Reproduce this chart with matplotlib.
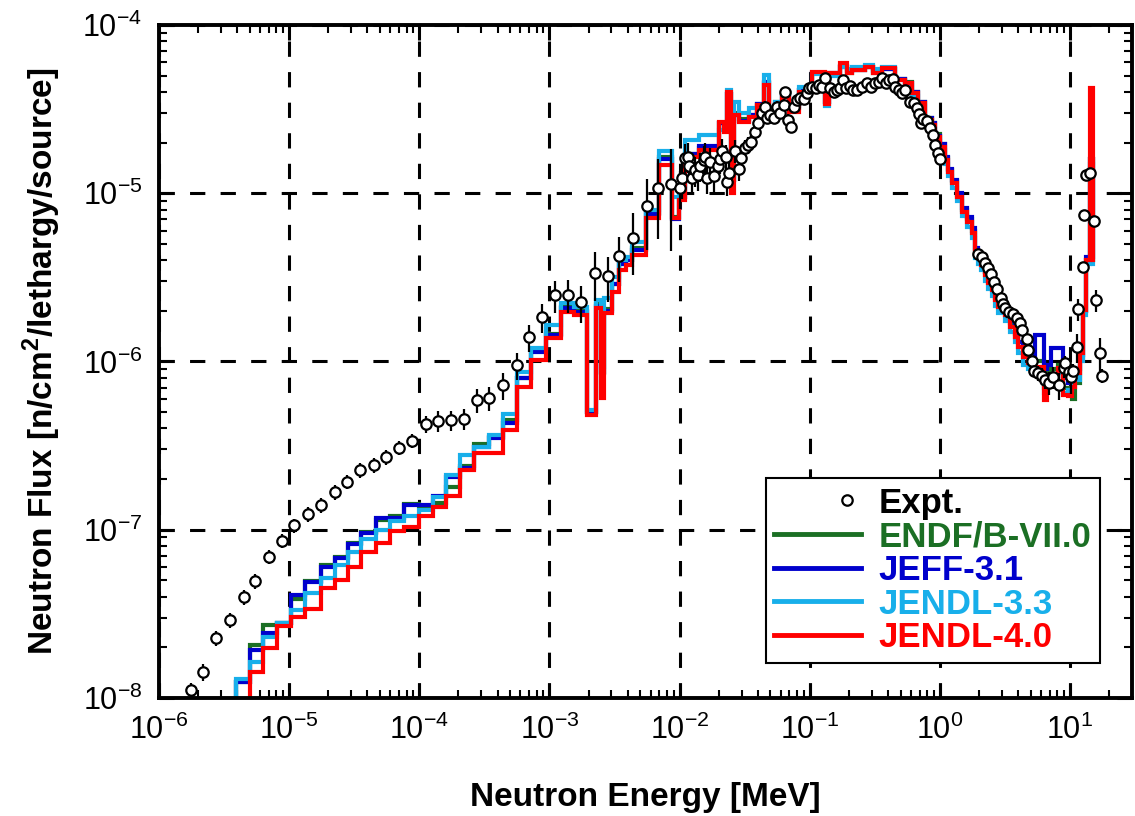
import numpy as np
import matplotlib
matplotlib.use('Agg')
import matplotlib.pyplot as plt
from matplotlib.lines import Line2D
from matplotlib.legend_handler import HandlerLine2D
from matplotlib.ticker import LogLocator, FuncFormatter, NullFormatter

plt.rcParams['font.family'] = ['Liberation Sans', 'DejaVu Sans']
plt.rcParams['axes.unicode_minus'] = False
plt.rcParams['mathtext.fontset'] = 'custom'
plt.rcParams['mathtext.rm'] = 'Liberation Sans'
plt.rcParams['mathtext.bf'] = 'Liberation Sans:bold'

# bin edges of the calculated spectra [MeV]
edges = [3.89e-6, 4.99e-6, 6.31e-6, 8.07e-6, 1.04e-5, 1.33e-5, 1.75e-5, 2.24e-5,
         2.83e-5, 3.58e-5, 4.67e-5, 5.98e-5, 7.69e-5, 9.91e-5, 1.27e-4, 1.61e-4,
         2.06e-4, 2.65e-4, 3.45e-4, 4.43e-4, 5.69e-4, 7.21e-4, 9.40e-4, 1.22e-3,
         1.55e-3, 1.96e-3, 2.27e-3, 2.51e-3, 2.63e-3, 3.05e-3, 3.43e-3, 3.86e-3,
         4.34e-3, 5.50e-3, 6.95e-3, 8.79e-3, 9.89e-3, 1.11e-2, 1.41e-2, 2.00e-2,
         2.19e-2, 2.32e-2, 2.47e-2, 2.61e-2, 2.86e-2, 3.40e-2, 3.94e-2, 4.44e-2,
         4.85e-2, 5.46e-2, 6.12e-2, 6.90e-2, 8.24e-2, 0.104, 0.132, 0.140,
         0.172, 0.193, 0.211, 0.267, 0.309, 0.358, 0.454, 0.541,
         0.608, 0.685, 0.771, 0.867, 0.920, 1.005, 1.10, 1.16,
         1.23, 1.35, 1.47, 1.61, 1.76, 1.87, 1.98, 2.09,
         2.22, 2.36, 2.50, 2.65, 2.81, 3.17, 3.46, 3.78,
         4.01, 4.38, 4.78, 5.38, 6.31, 6.61, 7.21, 8.13,
         8.87, 9.68, 10.3, 10.9, 11.9, 12.6, 13.4, 14.2, 15.1]

flux_endf = [1.25e-8, 2.07e-8, 2.72e-8, 2.78e-8, 3.9e-8, 4.95e-8, 6.2e-8, 6.9e-8,
             8.3e-8, 9.7e-8, 1.15e-7, 1.2e-7, 1.42e-7, 1.38e-7, 1.45e-7, 1.8e-7,
             2.4e-7, 3.25e-7, 3.55e-7, 4.5e-7, 8.0e-7, 1.15e-6, 1.45e-6, 2.1e-6,
             2.0e-6, 5.0e-7, 2.2e-6, 8.5e-7, 2.05e-6, 2.9e-6, 3.8e-6, 4.0e-6,
             4.7e-6, 7.6e-6, 1.65e-5, 7.2e-6, 9.5e-6, 1.72e-5, 1.86e-5, 2.6e-5,
             2.4e-5, 3.9e-5, 1.2e-5, 3.0e-5, 2.75e-5, 2.9e-5, 3.4e-5, 4.5e-5,
             3.2e-5, 3.5e-5, 3.8e-5, 3.2e-5, 4.1e-5, 5.2e-5, 3.5e-5, 5.1e-5,
             5.7e-5, 5.2e-5, 5.4e-5, 5.6e-5, 5.2e-5, 5.5e-5, 4.8e-5, 4.6e-5,
             4.0e-5, 3.5e-5, 2.8e-5, 2.6e-5, 2.25e-5, 1.95e-5, 1.62e-5, 1.38e-5,
             1.18e-5, 9.8e-6, 8.0e-6, 7.0e-6, 6.0e-6, 4.6e-6, 4.3e-6, 3.9e-6,
             3.4e-6, 3.0e-6, 2.75e-6, 2.4e-6, 2.25e-6, 1.95e-6, 1.7e-6, 1.45e-6,
             1.3e-6, 1.12e-6, 1.0e-6, 1.0e-6, 7.0e-7, 8.5e-7, 9.0e-7, 9.5e-7,
             7.0e-7, 6.5e-7, 6.0e-7, 7.5e-7, 1.05e-6, 2.0e-6, 4.0e-6, 1.6e-5]

flux_jeff = [1.25e-8, 1.93e-8, 2.45e-8, 2.78e-8, 4.09e-8, 4.88e-8, 6.03e-8, 6.76e-8,
             8.19e-8, 9.53e-8, 1.17e-7, 1.18e-7, 1.40e-7, 1.40e-7, 1.59e-7, 2.07e-7,
             2.32e-7, 3.12e-7, 3.49e-7, 4.32e-7, 7.95e-7, 1.14e-6, 1.44e-6, 2.07e-6,
             1.98e-6, 5.0e-7, 2.15e-6, 8.7e-7, 2.0e-6, 2.9e-6, 3.8e-6, 4.0e-6,
             4.6e-6, 7.5e-6, 1.6e-5, 7.0e-6, 9.5e-6, 1.7e-5, 1.9e-5, 2.6e-5,
             2.4e-5, 3.9e-5, 1.2e-5, 2.9e-5, 2.7e-5, 2.9e-5, 3.4e-5, 4.6e-5,
             3.1e-5, 3.4e-5, 3.8e-5, 3.3e-5, 4.1e-5, 5.2e-5, 3.5e-5, 5.2e-5,
             5.6e-5, 5.3e-5, 5.4e-5, 5.6e-5, 5.3e-5, 5.5e-5, 4.8e-5, 4.5e-5,
             4.0e-5, 3.5e-5, 2.8e-5, 2.6e-5, 2.2e-5, 1.95e-5, 1.65e-5, 1.40e-5,
             1.2e-5, 1.0e-5, 8.2e-6, 7.2e-6, 6.2e-6, 4.7e-6, 4.4e-6, 4.0e-6,
             3.4e-6, 3.1e-6, 2.8e-6, 2.45e-6, 2.3e-6, 2.0e-6, 1.75e-6, 1.5e-6,
             1.3e-6, 1.15e-6, 1.05e-6, 1.44e-6, 9.0e-7, 9.5e-7, 1.2e-6, 1.2e-6,
             8.0e-7, 7.5e-7, 8.0e-7, 9.0e-7, 1.1e-6, 2.0e-6, 4.2e-6, 1.6e-5]

flux_jendl33 = [1.29e-8, 1.64e-8, 2.31e-8, 2.78e-8, 3.33e-8, 4.19e-8, 5.14e-8, 6.17e-8,
                7.41e-8, 8.77e-8, 9.97e-8, 1.12e-7, 1.20e-7, 1.31e-7, 1.57e-7, 2.11e-7,
                2.78e-7, 3.12e-7, 3.66e-7, 4.87e-7, 8.69e-7, 1.20e-6, 1.65e-6, 2.24e-6,
                2.12e-6, 5.15e-7, 2.32e-6, 9.3e-7, 2.38e-6, 3.19e-6, 4.01e-6, 4.2e-6,
                5.15e-6, 7.94e-6, 1.79e-5, 9.55e-6, 1.1e-5, 2.07e-5, 2.22e-5, 2.38e-5,
                2.38e-5, 4.11e-5, 2.9e-5, 3.50e-5, 3.0e-5, 3.2e-5, 3.3e-5, 5.05e-5,
                3.2e-5, 3.5e-5, 4.0e-5, 3.4e-5, 4.3e-5, 5.1e-5, 3.3e-5, 5.0e-5,
                5.6e-5, 5.5e-5, 5.6e-5, 5.8e-5, 5.5e-5, 5.6e-5, 4.7e-5, 4.4e-5,
                3.8e-5, 3.3e-5, 2.6e-5, 2.4e-5, 2.05e-5, 1.8e-5, 1.5e-5, 1.27e-5,
                1.08e-5, 9.0e-6, 7.3e-6, 6.3e-6, 5.4e-6, 4.1e-6, 3.8e-6, 3.5e-6,
                3.0e-6, 2.7e-6, 2.45e-6, 2.15e-6, 1.95e-6, 1.75e-6, 1.5e-6, 1.3e-6,
                1.12e-6, 9.5e-7, 9.0e-7, 8.6e-7, 6.5e-7, 7.2e-7, 7.5e-7, 8.5e-7,
                6.5e-7, 6.8e-7, 7.5e-7, 7.8e-7, 1.0e-6, 1.9e-6, 3.8e-6, 1.5e-5]

flux_jendl40 = [8.0e-9, 1.43e-8, 1.97e-8, 2.68e-8, 3.04e-8, 3.36e-8, 4.53e-8, 5.03e-8,
                6.03e-8, 7.35e-8, 8.30e-8, 9.83e-8, 1.04e-7, 1.20e-7, 1.37e-7, 1.59e-7,
                2.25e-7, 2.84e-7, 2.84e-7, 3.9e-7, 7.08e-7, 1.02e-6, 1.37e-6, 1.98e-6,
                1.89e-6, 4.81e-7, 2.07e-6, 6.04e-7, 1.93e-6, 2.60e-6, 3.50e-6, 3.75e-6,
                4.30e-6, 7.10e-6, 1.47e-5, 7.10e-6, 9.12e-6, 1.65e-5, 1.81e-5, 2.66e-5,
                2.32e-5, 4.02e-5, 1.0e-5, 2.92e-5, 2.66e-5, 2.85e-5, 3.35e-5, 4.40e-5,
                2.98e-5, 3.35e-5, 3.75e-5, 3.05e-5, 4.02e-5, 5.28e-5, 3.4e-5, 5.16e-5,
                5.92e-5, 5.16e-5, 5.41e-5, 5.65e-5, 5.16e-5, 5.53e-5, 4.71e-5, 4.50e-5,
                3.93e-5, 3.43e-5, 2.72e-5, 2.55e-5, 2.17e-5, 1.89e-5, 1.58e-5, 1.34e-5,
                1.15e-5, 9.55e-6, 7.77e-6, 6.78e-6, 5.78e-6, 4.40e-6, 4.10e-6, 3.75e-6,
                3.27e-6, 2.92e-6, 2.66e-6, 2.32e-6, 2.12e-6, 1.89e-6, 1.61e-6, 1.40e-6,
                1.22e-6, 1.07e-6, 9.75e-7, 9.3e-7, 5.9e-7, 7.76e-7, 7.6e-7, 9.1e-7,
                6.3e-7, 6.2e-7, 7.1e-7, 8.5e-7, 1.12e-6, 2.02e-6, 4.0e-6, 4.2e-5]

# measured spectrum
e_expt = [1.78e-6, 2.19e-6, 2.77e-6, 3.50e-6, 4.49e-6, 5.52e-6, 7.02e-6, 8.89e-6,
          1.09e-5, 1.40e-5, 1.77e-5, 2.27e-5, 2.78e-5, 3.52e-5, 4.48e-5, 5.51e-5,
          6.97e-5, 8.83e-5, 1.13e-4, 1.39e-4, 1.76e-4, 2.22e-4, 2.76e-4, 3.45e-4,
          4.44e-4, 5.60e-4, 6.92e-4, 8.76e-4, 1.11e-3, 1.38e-3, 1.74e-3, 2.23e-3,
          2.80e-3, 3.43e-3, 4.39e-3, 5.59e-3, 6.86e-3, 8.67e-3, 1.00e-2, 1.04e-2,
          1.11e-2, 1.17e-2, 1.18e-2, 1.25e-2, 1.31e-2, 1.39e-2, 1.43e-2, 1.54e-2,
          1.58e-2, 1.63e-2, 1.71e-2, 1.84e-2, 1.97e-2, 2.04e-2, 2.13e-2, 2.28e-2,
          2.32e-2, 2.39e-2, 2.66e-2, 2.86e-2, 2.99e-2, 3.21e-2, 3.37e-2, 3.57e-2,
          3.79e-2, 4.02e-2, 4.31e-2, 4.52e-2, 4.71e-2, 5.00e-2, 5.30e-2, 5.61e-2,
          5.96e-2, 6.32e-2, 6.52e-2, 6.82e-2, 7.24e-2, 7.54e-2, 8.00e-2, 8.49e-2,
          8.99e-2, 9.53e-2, 9.94e-2, 0.104, 0.111, 0.117, 0.124, 0.132,
          0.144, 0.153, 0.162, 0.172, 0.180, 0.191, 0.205, 0.217,
          0.231, 0.252, 0.275, 0.295, 0.319, 0.342, 0.359, 0.387,
          0.404, 0.434, 0.454, 0.482, 0.511, 0.542, 0.592, 0.628,
          0.665, 0.695, 0.719, 0.748, 0.794, 0.843, 0.894, 0.920,
          0.975, 1.005, 1.95, 2.10, 2.22, 2.36, 2.48, 2.62,
          2.74, 2.96, 3.08, 3.17, 3.40, 3.67, 3.90, 4.14,
          4.27, 4.66, 4.80, 5.09, 5.25, 5.66, 6.08, 6.46,
          6.93, 7.35, 8.28, 8.93, 9.20, 9.75, 10.2, 10.5,
          11.3, 11.6, 12.5, 12.9, 13.4, 14.2, 15.3, 15.9,
          16.9, 17.5]
f_expt = [1.12e-8, 1.43e-8, 2.26e-8, 2.91e-8, 3.96e-8, 4.95e-8, 6.92e-8, 8.61e-8,
          1.06e-7, 1.24e-7, 1.40e-7, 1.67e-7, 1.93e-7, 2.27e-7, 2.43e-7, 2.69e-7,
          3.07e-7, 3.38e-7, 4.25e-7, 4.45e-7, 4.48e-7, 4.57e-7, 5.90e-7, 6.04e-7,
          7.24e-7, 9.53e-7, 1.39e-6, 1.84e-6, 2.48e-6, 2.50e-6, 2.25e-6, 3.37e-6,
          3.21e-6, 4.24e-6, 5.44e-6, 8.36e-6, 1.07e-5, 1.14e-5, 1.08e-5, 1.23e-5,
          1.63e-5, 1.65e-5, 1.45e-5, 1.23e-5, 1.37e-5, 1.28e-5, 1.45e-5, 1.58e-5,
          1.65e-5, 1.24e-5, 1.54e-5, 1.26e-5, 1.45e-5, 1.59e-5, 1.79e-5, 1.65e-5,
          1.17e-5, 1.32e-5, 1.79e-5, 1.39e-5, 1.61e-5, 1.85e-5, 1.94e-5, 2.02e-5,
          2.32e-5, 2.61e-5, 2.99e-5, 3.27e-5, 2.79e-5, 2.92e-5, 2.79e-5, 3.27e-5,
          2.99e-5, 3.35e-5, 3.98e-5, 2.72e-5, 2.47e-5, 3.27e-5, 3.58e-5, 3.70e-5,
          3.61e-5, 3.93e-5, 4.21e-5, 4.30e-5, 4.21e-5, 4.40e-5, 4.30e-5, 4.82e-5,
          4.21e-5, 4.02e-5, 4.11e-5, 4.21e-5, 4.71e-5, 4.21e-5, 4.34e-5, 4.11e-5,
          4.11e-5, 4.27e-5, 4.50e-5, 4.30e-5, 4.50e-5, 4.60e-5, 4.82e-5, 4.50e-5,
          4.71e-5, 4.75e-5, 4.30e-5, 4.11e-5, 3.93e-5, 4.11e-5, 3.50e-5, 3.43e-5,
          3.20e-5, 2.96e-5, 2.62e-5, 2.75e-5, 2.70e-5, 2.43e-5, 2.22e-5, 1.94e-5,
          1.74e-5, 1.59e-5, 4.36e-6, 4.16e-6, 3.84e-6, 3.58e-6, 3.31e-6, 2.98e-6,
          2.69e-6, 2.38e-6, 2.20e-6, 2.07e-6, 1.98e-6, 1.91e-6, 1.81e-6, 1.70e-6,
          1.54e-6, 1.36e-6, 1.17e-6, 1.00e-6, 8.81e-7, 8.51e-7, 8.20e-7, 7.76e-7,
          7.48e-7, 8.05e-7, 7.24e-7, 9.12e-7, 9.84e-7, 8.71e-7, 8.05e-7, 8.81e-7,
          1.22e-6, 2.04e-6, 3.63e-6, 7.43e-6, 1.28e-5, 1.32e-5, 6.87e-6, 2.32e-6,
          1.13e-6, 8.24e-7]
rel_err = [0.10, 0.12, 0.10, 0.10, 0.10, 0.10, 0.10, 0.10,
           0.10, 0.10, 0.10, 0.10, 0.10, 0.10, 0.10, 0.10,
           0.10, 0.10, 0.12, 0.14, 0.14, 0.14, 0.16, 0.16,
           0.18, 0.18, 0.18, 0.20, 0.22, 0.22, 0.25, 0.32,
           0.30, 0.30, 0.40, 0.45, 0.50, 0.60, 0.25, 0.25,
           0.20, 0.20, 0.20, 0.20, 0.20, 0.20, 0.20, 0.20,
           0.20, 0.20, 0.20, 0.20, 0.18, 0.18, 0.18, 0.18,
           0.18, 0.18, 0.15, 0.15, 0.15, 0.12, 0.12, 0.10,
           0.10, 0.10, 0.08, 0.08, 0.08, 0.08, 0.08, 0.08,
           0.08, 0.08, 0.08, 0.08, 0.08, 0.06, 0.06, 0.06,
           0.06, 0.06, 0.06, 0.05, 0.05, 0.05, 0.05, 0.05,
           0.05, 0.05, 0.05, 0.05, 0.05, 0.05, 0.05, 0.05,
           0.05, 0.05, 0.05, 0.05, 0.05, 0.05, 0.05, 0.05,
           0.05, 0.05, 0.05, 0.05, 0.05, 0.05, 0.05, 0.05,
           0.05, 0.05, 0.05, 0.05, 0.05, 0.05, 0.05, 0.05,
           0.05, 0.05, 0.05, 0.05, 0.05, 0.05, 0.05, 0.05,
           0.05, 0.05, 0.05, 0.05, 0.05, 0.05, 0.05, 0.06,
           0.06, 0.06, 0.06, 0.08, 0.08, 0.10, 0.12, 0.12,
           0.15, 0.15, 0.18, 0.12, 0.10, 0.12, 0.20, 0.10,
           0.20, 0.15, 0.05, 0.05, 0.05, 0.05, 0.05, 0.15,
           0.22, 0.10]

labels = ['ENDF/B-VII.0', 'JEFF-3.1', 'JENDL-3.3', 'JENDL-4.0']
colors = ['#1b6f24', '#0000cc', '#18afea', '#ff0000']
fluxes = [flux_endf, flux_jeff, flux_jendl33, flux_jendl40]


class HandlerRightMarker(HandlerLine2D):
    def get_xdata(self, legend, xdescent, ydescent, width, height, fontsize):
        xd = np.array([width - xdescent - 0.4 * fontsize])
        return xd, xd


fig, ax = plt.subplots(figsize=(11.35, 8.16), dpi=100)
fig.subplots_adjust(left=0.140, right=0.9974, top=0.9694, bottom=0.1446)

e = np.array(edges)
for lab, col, fl in zip(labels, colors, fluxes):
    v = np.array(fl)
    xs = np.concatenate([[e[0]], np.repeat(e, 2)[1:-1], [e[-1]]])
    ys = np.concatenate([[1e-9], np.repeat(v, 2), [v[-2]]])
    ax.plot(xs, ys, color=col, lw=3, solid_joinstyle='miter', zorder=2)

fe = np.array(f_expt)
err = fe * np.array(rel_err)
ax.errorbar(e_expt, f_expt, yerr=err, fmt='o', ms=7.5, mfc='white', mec='k',
            mew=1.6, ecolor='k', elinewidth=1.6, capsize=0, zorder=5)

ax.set_xscale('log')
ax.set_yscale('log')
ax.set_xlim(1e-6, 30)
ax.set_ylim(1e-8, 1e-4)

for axis in (ax.xaxis, ax.yaxis):
    axis.set_major_locator(LogLocator(base=10, numticks=20))
    axis.set_minor_locator(LogLocator(base=10, subs=np.arange(2, 10), numticks=100))
    axis.set_minor_formatter(NullFormatter())
    axis.set_major_formatter(FuncFormatter(lambda v, p: r'$\mathdefault{10^{%d}}$' % round(np.log10(v))))

ax.tick_params(which='major', direction='in', length=11, width=2.2, top=True, right=True,
               labelsize=22, pad=12)
ax.tick_params(which='minor', direction='in', length=5.5, width=1.5, top=True, right=True)
for sp in ax.spines.values():
    sp.set_linewidth(2.8)

ax.grid(True, which='major', color='k', linestyle=(0, (5, 5)), linewidth=2.2)

ax.set_xlabel('Neutron Energy [MeV]', fontsize=24, fontweight='bold', labelpad=26)
ax.set_ylabel(r'Neutron Flux [n/cm$^\mathbf{2}$/lethargy/source]', fontsize=24,
              fontweight='bold', labelpad=14)

handles = [Line2D([], [], marker='o', ls='none', ms=7.5, mfc='white', mec='k', mew=1.6)]
handles += [Line2D([], [], color=c, lw=3.5) for c in colors]
leg = ax.legend(handles, ['Expt.'] + labels, loc='lower right', bbox_to_anchor=(0.967, 0.052),
                borderaxespad=0, frameon=True, fancybox=False, edgecolor='k', framealpha=1,
                prop=dict(family='Liberation Sans', weight='bold', size=25),
                handlelength=2.5, handletextpad=0.5, labelspacing=0.02, borderpad=0.25,
                handler_map={handles[0]: HandlerRightMarker()})
leg.get_frame().set_linewidth(1.5)
for t, c in zip(leg.get_texts(), ['k'] + colors):
    t.set_color(c)

fig.savefig('out.png', dpi=100)
